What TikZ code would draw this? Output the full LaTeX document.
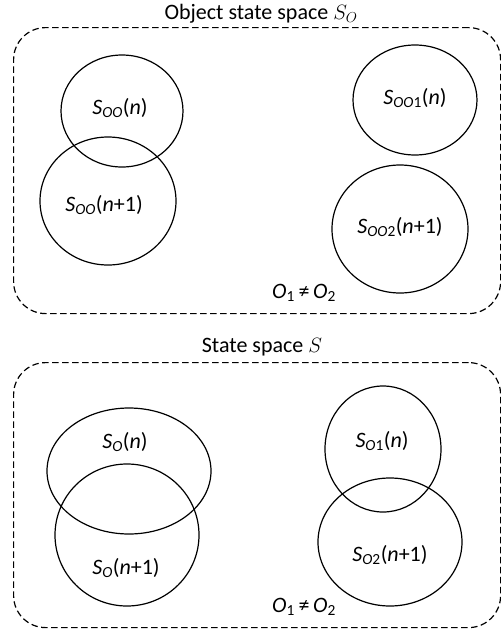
\documentclass[tikz,border=0pt]{standalone}
\usepackage{fontspec}
\setmainfont{Carlito}
\usetikzlibrary{shapes.geometric}
\tikzset{
blob/.style = {ellipse, draw, line width=1.2pt, inner sep=0pt, outer sep=0pt},
lab/.style = {inner sep=0pt, font=\fontsize{22}{24}\selectfont},
frame/.style = {draw, dashed, dash pattern=on 6.5pt off 3.5pt, line width=1.2pt, rounded corners=32pt}
}
\newcommand{\blob}[4]{\node[blob, minimum width=#3pt, minimum height=#4pt] (#1) at (#2) {};}
\newcommand{\lab}[3]{\node[lab] (#1) at (#2) {#3};}
\newcommand{\objne}{\textit{O}\textsubscript{1}\,≠\,\textit{O}\textsubscript{2}}

\begin{document}
\begin{tikzpicture}[x=1pt, y=-1pt]
    \useasboundingbox (0,0) rectangle (501,633);

    % object state space
    \node[frame, minimum width=487pt, minimum height=286pt, anchor=north west] (top) at (13,27) {};
    \lab{ttop}{261,14}{Object state space $S_O$};
    \blob{a}{122,111}{122}{112};
    \blob{b}{108,201}{136}{128};
    \blob{c}{415,100}{124}{110};
    \blob{d}{400,229}{136}{128};
    \lab{la}{120,108}{\textit{S}\textsubscript{\textit{OO}}(\textit{n})};
    \lab{lb}{104,205}{\textit{S}\textsubscript{\textit{OO}}(\textit{n}+1)};
    \lab{lc}{415,98}{\textit{S}\textsubscript{\textit{OO}1}(\textit{n})};
    \lab{ld}{400,227}{\textit{S}\textsubscript{\textit{OO}2}(\textit{n}+1)};
    \lab{ne1}{304,293}{\objne};

    % state space
    \node[frame, minimum width=487pt, minimum height=265pt, anchor=north west] (bot) at (13,362) {};
    \lab{tbot}{262,347}{State space $S$};
    \blob{e}{129,471}{164}{126};
    \blob{f}{127,535}{144}{142};
    \blob{g}{383,449}{116}{126};
    \blob{h}{390,542}{144}{128};
    \lab{le}{125,442}{\textit{S}\textsubscript{\textit{O}}(\textit{n})};
    \lab{lf}{126,568}{\textit{S}\textsubscript{\textit{O}}(\textit{n}+1)};
    \lab{lg}{382,441}{\textit{S}\textsubscript{\textit{O}1}(\textit{n})};
    \lab{lh}{390,555}{\textit{S}\textsubscript{\textit{O}2}(\textit{n}+1)};
    \lab{ne2}{304,607}{\objne};
\end{tikzpicture}
\end{document}
